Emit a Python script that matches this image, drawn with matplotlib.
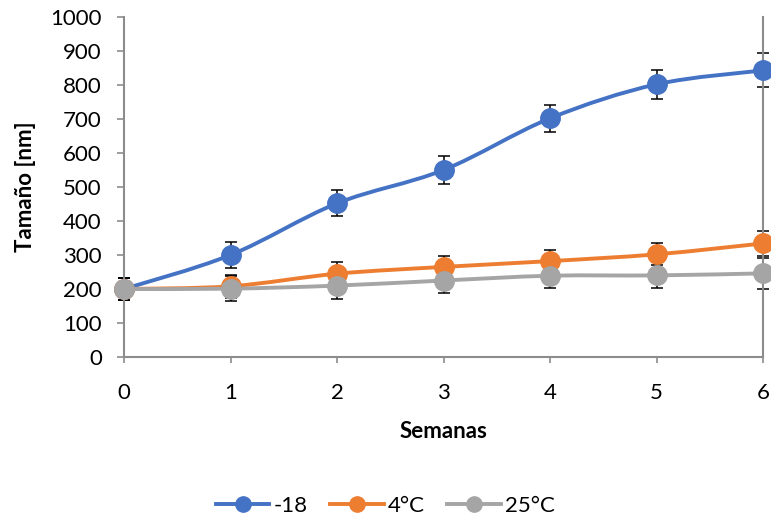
import numpy as np
import matplotlib.pyplot as plt
from matplotlib.path import Path
from matplotlib.patches import PathPatch
from matplotlib.lines import Line2D

plt.rcParams['font.family'] = ['Lato', 'DejaVu Sans']

semanas = [0, 1, 2, 3, 4, 5, 6]
series_names = ["-18", "4°C", "25°C"]
v_m18 = [200, 300, 452, 550, 702, 802, 843]
e_m18 = [33, 38, 38, 40, 40, 42, 50]
v_4 = [200, 208, 245, 265, 282, 302, 334]
e_4 = [33, 33, 33, 32, 33, 32, 38]
v_25 = [200, 201, 210, 225, 239, 240, 246]
e_25 = [33, 37, 38, 37, 37, 38, 45]
colors = ["#4472C4", "#ED7D31", "#A5A5A5"]


def smooth_path(x, y):
    # Excel-like smoothed line: cubic bezier with catmull-rom control points
    x = np.asarray(x, float)
    y = np.asarray(y, float)
    verts = [(x[0], y[0])]
    codes = [Path.MOVETO]
    n = len(x)
    for i in range(n - 1):
        p0 = (x[max(i - 1, 0)], y[max(i - 1, 0)])
        p1 = (x[i], y[i])
        p2 = (x[i + 1], y[i + 1])
        p3 = (x[min(i + 2, n - 1)], y[min(i + 2, n - 1)])
        c1 = (p1[0] + (p2[0] - p0[0]) / 6, p1[1] + (p2[1] - p0[1]) / 6)
        c2 = (p2[0] - (p3[0] - p1[0]) / 6, p2[1] - (p3[1] - p1[1]) / 6)
        verts += [c1, c2, p2]
        codes += [Path.CURVE4] * 3
    return Path(verts, codes)


fig = plt.figure(figsize=(7.71, 5.17), dpi=100)
ax = fig.add_axes([124 / 771, 160 / 517, 639 / 771, 340 / 517])

data = [(v_m18, e_m18), (v_4, e_4), (v_25, e_25)]
handles = []
for (vals, errs), c, name in zip(data, colors, series_names):
    ax.add_patch(PathPatch(smooth_path(semanas, vals), fill=False, edgecolor=c,
                           lw=2.8, zorder=2, clip_on=False))
    ax.errorbar(semanas, vals, yerr=errs, fmt="none", ecolor="black",
                elinewidth=1.1, capsize=4.5, capthick=1.1, zorder=2.5, clip_on=False)
    ax.plot(semanas, vals, "o", color=c, ms=14, zorder=3, clip_on=False)
    handles.append(Line2D([0], [0], color=c, lw=2.8, marker="o", ms=11, label=name))

ax.set_xlim(0, 6)
ax.set_ylim(0, 1000)
ax.set_xticks(semanas)
ax.set_yticks(range(0, 1001, 100))
ax.tick_params(axis="both", labelsize=16, color="#8C8C8C", length=5, width=1.2)
ax.tick_params(axis="y", pad=11)
ax.tick_params(axis="x", length=4.5, pad=14)
for s in ["left", "bottom", "right"]:
    ax.spines[s].set_color("#8C8C8C")
    ax.spines[s].set_linewidth(1.5)
ax.spines["top"].set_visible(False)

ax.set_xlabel("Semanas", fontsize=16, fontweight="bold", labelpad=13)
ax.set_ylabel("Tamaño [nm]", fontsize=16, fontweight="bold", labelpad=10)

fig.legend(handles=handles, loc="center", bbox_to_anchor=(0.5, 0.022), ncol=3,
           frameon=False, fontsize=16, handlelength=2.4, columnspacing=1.0,
           handletextpad=0.2)

fig.savefig("out.png", dpi=100)
